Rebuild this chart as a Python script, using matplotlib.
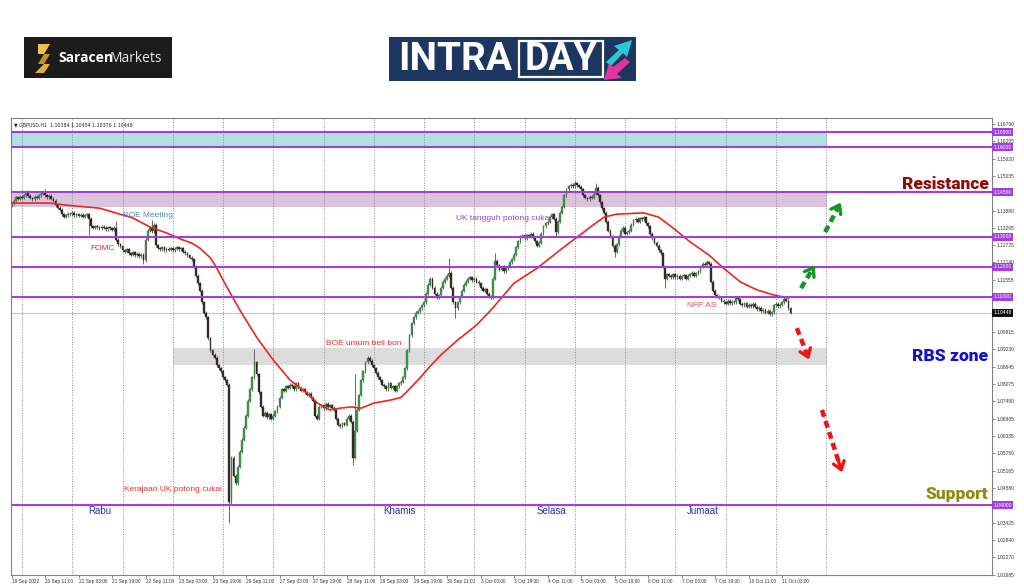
import matplotlib
matplotlib.use("Agg")
import matplotlib.pyplot as plt
import matplotlib.transforms as mtransforms
from matplotlib.patches import Rectangle, Polygon
import numpy as np

# ---------------- data ----------------
first_open = 1.1405
closes = [
    1.1413, 1.1420, 1.1432, 1.1428, 1.1435,
    1.1430, 1.1440, 1.1448, 1.1438, 1.1430, 1.1425, 1.1435, 1.1430, 1.1440, 1.1445,
    1.1450, 1.1440, 1.1432, 1.1438, 1.1428, 1.1420,
    1.1405, 1.1398, 1.1390, 1.1375, 1.1368,
    1.1372, 1.1378, 1.1375, 1.1380, 1.1372, 1.1376, 1.1370, 1.1374, 1.1368, 1.1372, 1.1375, 1.1360,
    1.1335, 1.1330, 1.1336, 1.1332, 1.1328, 1.1334, 1.1330, 1.1326, 1.1332, 1.1329, 1.1324, 1.1330,
    1.1290, 1.1275, 1.1268,
    1.1255, 1.1250, 1.1258, 1.1245, 1.1240, 1.1248, 1.1238, 1.1244, 1.1235, 1.1240, 1.1222,
    1.1290, 1.1320, 1.1330, 1.1318, 1.1340,
    1.1272,
    1.1262, 1.1258, 1.1265, 1.1255, 1.1260, 1.1257, 1.1262, 1.1255, 1.1260, 1.1265, 1.1258,
    1.1262, 1.1250, 1.1245, 1.1238, 1.1230, 1.1225,
    1.1200, 1.1170, 1.1145, 1.1120, 1.1080, 1.1045, 1.1030,
    1.0960, 1.0920, 1.0905, 1.0895, 1.0870, 1.0860, 1.0850,
    1.0830, 1.0820, 1.0805,
    1.0410, 1.0560, 1.0500, 1.0475, 1.0530,
    1.0580, 1.0620, 1.0660, 1.0700, 1.0750, 1.0790, 1.0830, 1.0880,
    1.0840, 1.0780, 1.0730, 1.0700,
    1.0710, 1.0695, 1.0705, 1.0690, 1.0700, 1.0715, 1.0730,
    1.0760, 1.0790, 1.0785, 1.0800, 1.0795, 1.0805, 1.0800, 1.0790, 1.0810, 1.0795, 1.0785, 1.0790,
    1.0780, 1.0770, 1.0775, 1.0760, 1.0750, 1.0700, 1.0690,
    1.0730, 1.0735, 1.0725, 1.0740, 1.0730, 1.0735, 1.0728, 1.0720,
    1.0690, 1.0670, 1.0665, 1.0675, 1.0670, 1.0690, 1.0700, 1.0680, 1.0560, 1.0650,
    1.0720, 1.0770, 1.0820, 1.0850, 1.0880, 1.0895, 1.0885, 1.0870, 1.0860, 1.0845, 1.0830, 1.0820,
    1.0805, 1.0800, 1.0790, 1.0810, 1.0795, 1.0800, 1.0785, 1.0800, 1.0810, 1.0815, 1.0830, 1.0860,
    1.0920, 1.0970, 1.1010, 1.1030, 1.1045, 1.1050, 1.1060, 1.1070, 1.1080, 1.1110, 1.1140, 1.1160,
    1.1130, 1.1110, 1.1095, 1.1105, 1.1130, 1.1150, 1.1160, 1.1170, 1.1180, 1.1130, 1.1080, 1.1060,
    1.1080, 1.1100, 1.1120, 1.1140, 1.1150, 1.1160, 1.1165, 1.1155, 1.1160, 1.1150, 1.1145, 1.1130,
    1.1120, 1.1125, 1.1110, 1.1100, 1.1095,
    1.1160, 1.1220, 1.1205, 1.1190, 1.1200, 1.1185, 1.1195, 1.1200, 1.1215, 1.1225, 1.1240, 1.1265,
    1.1285, 1.1300,
    1.1305, 1.1295, 1.1305, 1.1300, 1.1310, 1.1298, 1.1285, 1.1270, 1.1280, 1.1310, 1.1335, 1.1345, 1.1350,
    1.1365, 1.1375, 1.1360, 1.1315, 1.1350, 1.1380, 1.1400, 1.1440, 1.1460, 1.1470,
    1.1475, 1.1470, 1.1480, 1.1472, 1.1468, 1.1460, 1.1440, 1.1430, 1.1425, 1.1435, 1.1430, 1.1445,
    1.1465, 1.1440, 1.1415, 1.1395, 1.1380, 1.1350, 1.1320, 1.1300, 1.1270, 1.1250,
    1.1275, 1.1300, 1.1320, 1.1330, 1.1310, 1.1315, 1.1320, 1.1340, 1.1355, 1.1360, 1.1350, 1.1362,
    1.1358, 1.1365,
    1.1345, 1.1335, 1.1310, 1.1295, 1.1280, 1.1270, 1.1255, 1.1245, 1.1200, 1.1160,
    1.1175, 1.1170, 1.1165, 1.1175, 1.1165, 1.1170, 1.1160, 1.1168, 1.1172, 1.1160, 1.1170, 1.1175,
    1.1180, 1.1170, 1.1178, 1.1185,
    1.1200, 1.1210, 1.1205, 1.1215, 1.1210, 1.1150, 1.1120, 1.1105, 1.1100, 1.1095,
    1.1085, 1.1080, 1.1075, 1.1085, 1.1078, 1.1082, 1.1080, 1.1095, 1.1090,
    1.1075, 1.1070, 1.1078, 1.1065, 1.1072, 1.1068, 1.1075, 1.1065,
    1.1058, 1.1062, 1.1050, 1.1055, 1.1045, 1.1052, 1.1040, 1.1048, 1.1070,
    1.1075, 1.1068, 1.1072, 1.1080, 1.1092, 1.1085, 1.1060, 1.10448,
]
# notable wick extremes (bar index -> price)
spike_highs = {8: 1.1456, 16: 1.1460, 50: 1.1352, 67: 1.1357, 116: 1.0925, 164: 1.0842,
               209: 1.1228, 231: 1.1245, 269: 1.1488, 279: 1.1480, 332: 1.1222, 369: 1.1098}
spike_lows = {37: 1.1306, 63: 1.1208, 104: 1.0342, 163: 1.0535, 212: 1.1028, 260: 1.1298,
              288: 1.1232, 312: 1.1130}

# moving average (sampled: bar index, value)
ma_bars = [0, 18, 26, 42, 58, 66, 74, 82, 86, 90, 95, 98, 101, 109, 117, 125, 133, 141, 146,
           152, 157, 162, 167, 173, 181, 186, 190, 195, 200, 205, 213, 222, 229, 240, 251, 262,
           272, 277, 283, 289, 302, 309, 316, 324, 333, 340, 348, 356, 364, 371]
ma_vals = [1.1413, 1.1413, 1.1406, 1.1396, 1.1363, 1.1333, 1.1313, 1.1289, 1.1279, 1.1262,
           1.1229, 1.1195, 1.1155, 1.1055, 1.0964, 1.0887, 1.0820, 1.0777, 1.0743, 1.0720,
           1.0726, 1.0730, 1.0726, 1.0743, 1.0753, 1.0762, 1.0790, 1.0827, 1.0867, 1.0904,
           1.0954, 1.1004, 1.1055, 1.1145, 1.1195, 1.1256, 1.1309, 1.1336, 1.1366, 1.1376,
           1.1380, 1.1366, 1.1329, 1.1283, 1.1239, 1.1195, 1.1149, 1.1122, 1.1105, 1.1095]

levels = [1.16500, 1.16000, 1.14500, 1.13000, 1.12000, 1.11000, 1.04000]
current_price = 1.10448
cyan_zone = (1.1600, 1.1650)
resist_zone = (1.1400, 1.1450)
rbs_zone = (1.0870, 1.0927)
rbs_zone_start = 77
zone_end = 389.5

y_ticks = [1.16790, 1.16205, 1.15620, 1.15035, 1.13880, 1.13295, 1.12725, 1.12140, 1.11555,
           1.09815, 1.09230, 1.08645, 1.08075, 1.07490, 1.06905, 1.06335, 1.05750, 1.05165,
           1.04580, 1.03425, 1.02840, 1.02270, 1.01685]
x_label_bars = list(range(0, 369, 16))
x_labels = ["19 Sep 2022", "20 Sep 11:00", "21 Sep 03:00", "21 Sep 19:00", "22 Sep 11:00",
            "23 Sep 03:00", "23 Sep 19:00", "26 Sep 11:00", "27 Sep 03:00", "27 Sep 19:00",
            "28 Sep 11:00", "29 Sep 03:00", "29 Sep 19:00", "30 Sep 11:00", "3 Oct 03:00",
            "3 Oct 19:00", "4 Oct 11:00", "5 Oct 03:00", "5 Oct 19:00", "6 Oct 11:00",
            "7 Oct 03:00", "7 Oct 19:00", "10 Oct 11:00", "11 Oct 03:00"]
day_start_bars = list(range(5, 390, 24))

events = [("BOE Meeting", 53.3, 1.1373, "#4f86b8"),
          ("FOMC", 37.5, 1.1262, "#e03030"),
          ("UK tangguh potong cukai", 212.3, 1.1360, "#9a3fd0"),
          ("BOE umum beli bon", 150.2, 1.0944, "#e03030"),
          ("Kerajaan UK potong cukai", 53.7, 1.0452, "#e03030"),
          ("NFP AS", 322.6, 1.1071, "#e05050")]
weekdays = [("Rabu", 36.5), ("Khamis", 177.4), ("Selasa", 250.9), ("Jumaat", 322.6)]
weekday_price = 1.0381

green_arrows = [((377.0, 1.1128), (384.2, 1.1212)), ((388.5, 1.1316), (396.6, 1.1423))]
red_arrows = [((375.0, 1.0994), (381.3, 1.0880)), ((387.0, 1.0720), (397.0, 1.0502))]

# ---------------- figure ----------------
W, H = 1024, 587
fig = plt.figure(figsize=(W / 100, H / 100), dpi=100)
fig.patch.set_facecolor("white")
ax_l, ax_r, ax_t, ax_b = 11, 992, 118, 575
ax = fig.add_axes([ax_l / W, 1 - ax_b / H, (ax_r - ax_l) / W, (ax_b - ax_t) / H])
ax.set_xlim(-0.25, 468.2)
ax.set_ylim(1.0167, 1.1698)
for s in ax.spines.values():
    s.set_color("#808080")
    s.set_linewidth(0.8)

# zones
ax.add_patch(Rectangle((-0.25, cyan_zone[0]), zone_end + 0.25, cyan_zone[1] - cyan_zone[0],
                       fc="#b0e0e2", ec="none", zorder=0.5))
ax.add_patch(Rectangle((-0.25, resist_zone[0]), zone_end + 0.25, resist_zone[1] - resist_zone[0],
                       fc="#dcc3dc", ec="none", zorder=0.5))
ax.add_patch(Rectangle((rbs_zone_start, rbs_zone[0]), zone_end - rbs_zone_start,
                       rbs_zone[1] - rbs_zone[0], fc="#dcdcdc", ec="none", zorder=0.5))

# grid (day separators)
for d in day_start_bars:
    ax.axvline(d, color="#8a8a8a", lw=0.7, ls=(0, (1, 1.6)), zorder=0.8)

# current price line
ax.axhline(current_price, color="#c8c8c8", lw=0.8, zorder=0.9)

# candles
closes_a = np.array(closes)
opens_a = np.concatenate([[first_open], closes_a[:-1]])
idx = np.arange(len(closes_a))
WICK = 0.0005
highs = np.maximum(opens_a, closes_a) + WICK
lows = np.minimum(opens_a, closes_a) - WICK
for k, v in spike_highs.items():
    highs[k] = v
for k, v in spike_lows.items():
    lows[k] = v
ax.vlines(idx, lows, highs, color="#505050", lw=0.6, zorder=2)
bull = closes_a >= opens_a
body_h = np.maximum(np.abs(closes_a - opens_a), 0.00012)
body_b = np.minimum(opens_a, closes_a)
ax.bar(idx[bull], body_h[bull], bottom=body_b[bull], width=0.85, color="#3f9a46",
       edgecolor="#2c6e30", linewidth=0.25, zorder=2.2)
ax.bar(idx[~bull], body_h[~bull], bottom=body_b[~bull], width=0.85, color="#3a2a2a",
       edgecolor="#2a1a1a", linewidth=0.25, zorder=2.2)

# moving average
ax.plot(ma_bars, ma_vals, color="#e8281e", lw=1.2, zorder=2.5)

# levels
blend = mtransforms.blended_transform_factory(ax.transAxes, ax.transData)
for lv in levels:
    ax.axhline(lv, color="#a23fdc", lw=1.5, zorder=3)
    ax.text(1.0015, lv, f"{lv:.5f}", transform=blend, fontsize=3.6, color="white",
            family="Liberation Sans", va="center", ha="left", zorder=6,
            bbox=dict(boxstyle="square,pad=0.3", fc="#a23fdc", ec="none"), clip_on=False)
ax.text(1.0015, current_price, f"{current_price:.5f}", transform=blend, fontsize=3.6,
        color="white", family="Liberation Sans", va="center", ha="left", zorder=6,
        bbox=dict(boxstyle="square,pad=0.3", fc="#111111", ec="none"), clip_on=False)

# ticks
ax.yaxis.tick_right()
ax.set_yticks(y_ticks)
ax.set_yticklabels([f"{v:.5f}" for v in y_ticks], fontsize=3.5, color="#333333",
                   family="Liberation Sans")
ax.tick_params(axis="y", length=2, width=0.5, pad=1.5, colors="#555555")
ax.set_xticks(x_label_bars)
ax.set_xticklabels(x_labels, fontsize=3.4, color="#333333", family="Liberation Sans")
for t in ax.get_xticklabels():
    t.set_ha("left")
ax.tick_params(axis="x", length=2, width=0.5, pad=1.2, colors="#555555")
for t in ax.get_xticklabels() + ax.get_yticklabels():
    t.set_color("#333333")

# header
ax.text(0.003, 0.991, "\u25bc GBPUSD,H1  1.10384 1.10454 1.10376 1.10448", transform=ax.transAxes,
        fontsize=3.4, color="#222222", va="top", ha="left", zorder=6)

# event annotations
for txt, xb, yp, col in events:
    ax.text(xb, yp, txt, fontsize=6, color=col, va="center", ha="left",
            family="Liberation Sans", zorder=5)
for txt, xb in weekdays:
    ax.text(xb, weekday_price, txt, fontsize=7, color="#2d2db8", va="center", ha="left",
            family="Liberation Sans", zorder=5)

# zone labels
ax.text(466.5, 1.1477, "Resistance", fontsize=12.5, color="#8e0c0c", fontweight="black",
        family="Roboto", ha="right", va="center", zorder=5)
ax.text(466.5, 1.0901, "RBS zone", fontsize=12.5, color="#1212c8", fontweight="black",
        family="Roboto", ha="right", va="center", zorder=5)
ax.text(466.5, 1.0438, "Support", fontsize=12.5, color="#8e8e14", fontweight="black",
        family="Roboto", ha="right", va="center", zorder=5)

# dashed arrows
def dashed_arrow(p0, p1, col):
    x0, y0 = p0
    x1, y1 = p1
    ax.plot([x0, x0 + (x1 - x0) * 0.82], [y0, y0 + (y1 - y0) * 0.82], color=col, lw=3.2,
            ls=(0, (1.6, 1.0)), solid_capstyle="butt", zorder=5)
    ax.annotate("", xy=(x1, y1), xytext=(x0 + (x1 - x0) * 0.7, y0 + (y1 - y0) * 0.7),
                arrowprops=dict(arrowstyle="->,head_length=0.55,head_width=0.4", color=col,
                                lw=2.4), zorder=5)

for p0, p1 in green_arrows:
    dashed_arrow(p0, p1, "#15951f")
for p0, p1 in red_arrows:
    dashed_arrow(p0, p1, "#ee1515")

# ---------------- logos ----------------
def fx(x):
    return x / W

def fy(y):
    return 1 - y / H

fig.patches.append(Rectangle((fx(24), fy(78)), fx(172) - fx(24), fy(37) - fy(78),
                             transform=fig.transFigure, fc="#1c1c1c", ec="none"))
# stylised S mark
s_top = [(38, 44), (50, 44), (44, 54), (38, 54)]
s_mid = [(44, 54), (50, 54), (44, 64), (38, 64)]
s_bot = [(44, 64), (50, 64), (44, 73), (35, 73)]
for poly, col in [(s_top, "#f2c04a"), (s_mid, "#c99028"), (s_bot, "#e6ac3a")]:
    fig.patches.append(Polygon([(fx(a), fy(b)) for a, b in poly], closed=True,
                               transform=fig.transFigure, fc=col, ec="none"))
fig.text(fx(58), fy(58), "Saracen", fontsize=10, color="white", fontweight="bold",
         family="Open Sans", va="center", ha="left")
fig.text(fx(110), fy(58), "Markets", fontsize=10, color="#e8e8e8", family="Open Sans",
         va="center", ha="left")

fig.patches.append(Rectangle((fx(389), fy(81)), fx(636) - fx(389), fy(37) - fy(81),
                             transform=fig.transFigure, fc="#1d3561", ec="none"))
fig.text(fx(398), fy(59), "INTRA", fontsize=28, color="white", fontweight="bold",
         family="Roboto", va="center", ha="left")
fig.patches.append(Rectangle((fx(519), fy(77)), fx(603) - fx(519), fy(41) - fy(77),
                             transform=fig.transFigure, fc="none", ec="white", lw=1.6))
fig.text(fx(561), fy(59), "DAY", fontsize=27, color="white", fontweight="bold",
         family="Roboto", va="center", ha="center")
up_arrow = [(606, 62), (619, 50), (614, 46), (632, 40), (627, 57), (623, 53), (611, 66)]
dn_arrow = [(630, 62), (617, 74), (622, 78), (604, 80), (609, 63), (613, 67), (625, 58)]
fig.patches.append(Polygon([(fx(a), fy(b)) for a, b in up_arrow], closed=True,
                           transform=fig.transFigure, fc="#28c8d6", ec="none"))
fig.patches.append(Polygon([(fx(a), fy(b)) for a, b in dn_arrow], closed=True,
                           transform=fig.transFigure, fc="#e0349e", ec="none"))

fig.savefig("out.png", dpi=100, facecolor="white")
